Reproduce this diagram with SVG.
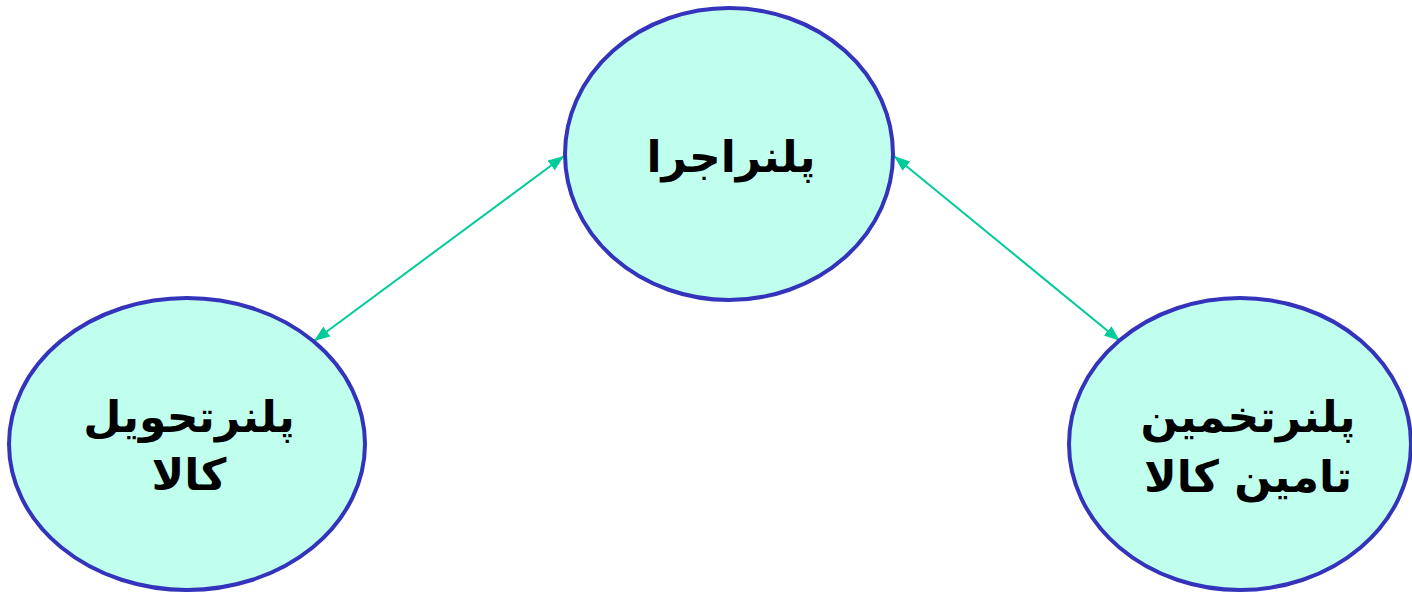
<svg xmlns="http://www.w3.org/2000/svg" width="1412" height="593" viewBox="0 0 1412 593">
<defs>
<style>
.node{fill:#C0FFEE;stroke:#3333BB;stroke-width:4}
.lbl{font-family:"DejaVu Sans",sans-serif;font-weight:bold;font-size:44px;fill:#000;text-anchor:middle;direction:rtl}
.conn{stroke:#00CC99;stroke-width:2;fill:none;marker-start:url(#ah);marker-end:url(#ah)}
</style>
<marker id="ah" viewBox="0 0 16 12" refX="16" refY="6" markerWidth="16" markerHeight="12" orient="auto-start-reverse" markerUnits="userSpaceOnUse">
<path d="M0,0 L16,6 L0,12 z" fill="#00CC99"/>
</marker>
</defs>
<rect width="1412" height="593" fill="#fff"/>
<g id="connectors">
<line class="conn" x1="314" y1="341" x2="564" y2="156"/>
<line class="conn" x1="894" y1="156" x2="1120" y2="341"/>
</g>
<g id="node-top">
<ellipse class="node" cx="729" cy="154" rx="164" ry="146"/>
<text class="lbl" x="731" y="172">پلنراجرا</text>
</g>
<g id="node-left">
<ellipse class="node" cx="187" cy="444" rx="178" ry="146"/>
<text class="lbl" x="189" y="432">پلنرتحویل</text>
<text class="lbl" x="189" y="490">کالا</text>
</g>
<g id="node-right">
<ellipse class="node" cx="1240" cy="444" rx="171" ry="146"/>
<text class="lbl" x="1248" y="432">پلنرتخمین</text>
<text class="lbl" x="1248" y="492">تامین کالا</text>
</g>
</svg>
